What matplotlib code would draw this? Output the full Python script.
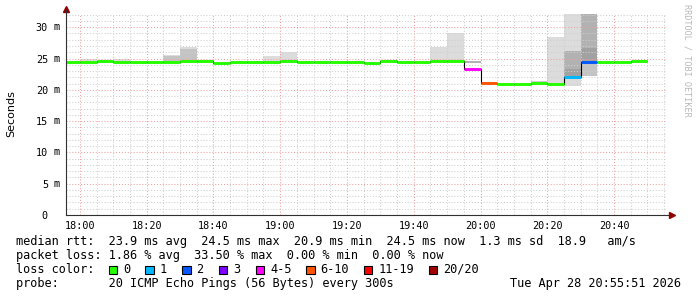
import numpy as np
import matplotlib
matplotlib.use('Agg')
import matplotlib.pyplot as plt
from matplotlib.patches import Rectangle
from matplotlib.ticker import MultipleLocator

W, H = 697, 297
MONO = 'DejaVu Sans Mono'

# 5 minute bins, start of bin in minutes after 18:00
bin_start = np.arange(-5, 170, 5)
median_ms = [24.4, 24.4, 24.55, 24.4, 24.5, 24.5, 24.4, 24.55, 24.55, 24.35,
             24.5, 24.5, 24.4, 24.55, 24.5, 24.5, 24.5, 24.5, 24.35, 24.55,
             24.4, 24.4, 24.55, 24.55, 23.3, 21.1, 20.9, 21.0, 21.05, 20.9,
             22.0, 24.45, 24.45, 24.45, 24.6]
loss_class = [0] * 24 + [4, 5, 0, 0, 0, 0, 1, 2, 0, 0, 0]

# smoke bands (ping spread), one row per band
smoke_bin = [1, 3, 6, 6, 7, 7, 12, 13, 22, 23, 24, 28, 29, 30, 30, 30, 30, 31, 31, 31]
smoke_lo = [24.45, 24.45, 24.45, 25.45, 24.6, 26.5, 24.45, 24.6, 24.6, 24.6,
            24.3, 20.7, 21.0, 22.0, 23.25, 26.2, 20.6, 24.5, 26.7, 22.2]
smoke_hi = [24.85, 24.85, 25.45, 25.6, 26.5, 26.8, 25.4, 26.1, 26.9, 29.0,
            24.6, 21.4, 28.4, 23.25, 26.2, 32.5, 22.0, 26.7, 32.5, 24.4]
smoke_level = [0, 0, 2, 0, 2, 0, 0, 0, 0, 0, 3, 1, 0, 4, 3, 0, 0, 4, 3, 2]

loss_labels = ['0', '1', '2', '3', '4-5', '6-10', '11-19', '20/20']
loss_colors = ['#26ff00', '#00b8ff', '#0059ff', '#7e00ff', '#ff00ff', '#ff5500', '#ff0000', '#a10000']
shade = ['#dcdcdc', '#cccccc', '#c4c4c4', '#b2b2b2', '#a2a2a2']

x_ticks = np.arange(0, 161, 20)
x_labels = ['18:00', '18:20', '18:40', '19:00', '19:20', '19:40', '20:00', '20:20', '20:40']
y_ticks = np.arange(0, 31, 5)

fig = plt.figure(figsize=(W / 100, H / 100), dpi=100)
ax = fig.add_axes([66 / W, 1 - 215 / H, (667 - 66) / W, (215 - 14.4) / H])

lo = np.array(smoke_lo)
hi = np.array(smoke_hi)
ax.bar(bin_start[smoke_bin], hi - lo, bottom=lo, width=5, align='edge',
       color=[shade[s] for s in smoke_level], linewidth=0, zorder=1)

edges = np.append(bin_start, bin_start[-1] + 5)
ax.stairs(median_ms, edges, baseline=None, color='black', lw=0.8, zorder=3)
ax.hlines(median_ms, bin_start, bin_start + 5,
          colors=[loss_colors[c] for c in loss_class], lw=2.1, zorder=4,
          capstyle='butt')

ax.set_xlim(-4.15, 175.85)
ax.set_ylim(0, 32.05)
ax.set_xticks(x_ticks)
ax.set_xticklabels(x_labels, fontfamily=MONO, fontsize=7.3)
ax.xaxis.set_minor_locator(MultipleLocator(5))
ax.set_yticks(y_ticks)
ax.set_yticklabels([str(v) for v in y_ticks], fontfamily=MONO, fontsize=7.3)
ax.yaxis.set_minor_locator(MultipleLocator(1))
ax.tick_params(which='both', length=0)
ax.tick_params(axis='x', pad=4)
ax.tick_params(axis='y', pad=13)
for v in y_ticks[1:]:
    ax.text(-6 / 601, v, 'm', transform=ax.get_yaxis_transform(), ha='right',
            va='center', fontfamily=MONO, fontsize=7.3)

ax.grid(which='minor', color='#cfcfcf', lw=0.75, linestyle=(0, (1, 1.8)))
ax.grid(which='major', color='#f0a0a0', lw=0.75, linestyle=(0, (1, 1.8)))
ax.set_axisbelow(False)
for s in ax.spines.values():
    s.set_visible(False)

# axes with arrows
ax.plot([0, 0], [0, 1.02], transform=ax.transAxes, color='#303030', lw=0.8, clip_on=False, zorder=5)
ax.plot([0, 1.004], [0, 0], transform=ax.transAxes, color='#303030', lw=0.8, clip_on=False, zorder=5)
ax.plot([0], [1.025], marker='^', ms=4, color='#900000', transform=ax.transAxes, clip_on=False)
ax.plot([1.008], [0], marker='>', ms=4, color='#900000', transform=ax.transAxes, clip_on=False)

fig.text(11 / W, 1 - 114 / H, 'Seconds', rotation=90, ha='center', va='center',
         fontfamily='DejaVu Sans', fontsize=8)
fig.text(687 / W, 1 - 4 / H, 'RRDTOOL / TOBI OETIKER', rotation=-90, ha='center',
         va='top', fontfamily=MONO, fontsize=6.1, color='#b8b8b8')

fs = 8.55
fig.text(16 / W, 1 - 242 / H,
         'median rtt:  23.9 ms avg  24.5 ms max  20.9 ms min  24.5 ms now  1.3 ms sd  18.9   am/s',
         fontfamily=MONO, fontsize=fs, va='center')
fig.text(16 / W, 1 - 256 / H,
         'packet loss: 1.86 % avg  33.50 % max  0.00 % min  0.00 % now',
         fontfamily=MONO, fontsize=fs, va='center')
fig.text(16 / W, 1 - 269.5 / H, 'loss color:', fontfamily=MONO, fontsize=fs, va='center')
bx = 108.7
for lab, col in zip(loss_labels, loss_colors):
    fig.add_artist(Rectangle((bx / W, 1 - 274 / H), 8.5 / W, 8.5 / H, facecolor=col,
                             edgecolor='black', lw=0.8, transform=fig.transFigure))
    fig.text((bx + 14.5) / W, 1 - 269.5 / H, lab, fontfamily=MONO, fontsize=fs, va='center')
    bx += 29.7 + 7.0 * len(lab)
fig.text(16 / W, 1 - 283 / H, 'probe:       20 ICMP Echo Pings (56 Bytes) every 300s',
         fontfamily=MONO, fontsize=fs, va='center')
fig.text(681 / W, 1 - 283 / H, 'Tue Apr 28 20:55:51 2026', fontfamily=MONO,
         fontsize=fs, va='center', ha='right')

fig.savefig('out.png', dpi=100)
